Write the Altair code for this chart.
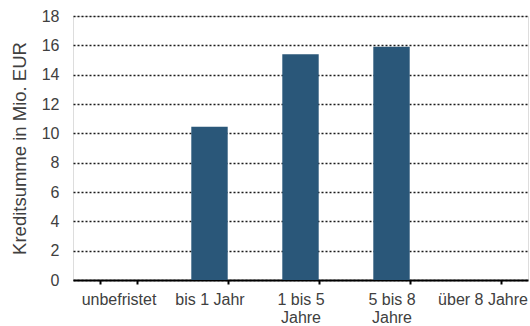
import altair as alt
import pandas as pd

# Kreditsumme nach Laufzeit (Mio. EUR)
laufzeiten = ["unbefristet", "bis 1 Jahr", "1 bis 5 Jahre", "5 bis 8 Jahre", "über 8 Jahre"]
kreditsumme = [0.0, 10.45, 15.4, 15.9, 0.0]
y_ticks = [0, 2, 4, 6, 8, 10, 12, 14, 16, 18]

df = pd.DataFrame({"laufzeit": laufzeiten, "summe": kreditsumme})

# two-line labels for the middle categories
label_expr = (
    "datum.label == '1 bis 5 Jahre' ? ['1 bis 5', 'Jahre'] : "
    "datum.label == '5 bis 8 Jahre' ? ['5 bis 8', 'Jahre'] : datum.label"
)

FONT = "Liberation Sans"
TEXT = "#404040"

chart = (
    alt.Chart(df)
    .mark_bar(color="#2a5779")
    .encode(
        x=alt.X(
            "laufzeit:N",
            sort=laufzeiten,
            scale=alt.Scale(paddingInner=0.6, paddingOuter=0.3),
            axis=alt.Axis(
                title=None,
                labelAngle=0,
                labelExpr=label_expr,
                labelFont=FONT,
                labelFontSize=16,
                labelColor=TEXT,
                labelLineHeight=18,
                labelPadding=7,
                tickBand="extent",
                tickSize=4,
                tickWidth=2,
                tickColor="#000000",
                domainColor="#000000",
                domainWidth=2,
                grid=False,
            ),
        ),
        y=alt.Y(
            "summe:Q",
            scale=alt.Scale(domain=[0, 18], nice=False),
            axis=alt.Axis(
                title="Kreditsumme in Mio. EUR",
                values=y_ticks,
                labelFont=FONT,
                labelFontSize=16,
                labelColor=TEXT,
                labelPadding=14,
                ticks=False,
                domain=False,
                grid=True,
                gridColor="#1a1a1a",
                gridDash=[2, 2],
                gridWidth=1.5,
                titleFont=FONT,
                titleFontSize=18.5,
                titleFontWeight="normal",
                titleColor=TEXT,
                titleAngle=-90,
                titleAlign="center",
                titleBaseline="alphabetic",
                titleX=-48,
                titleY=132,
            ),
        ),
    )
    .properties(
        width=455,
        height=264,
        autosize=alt.AutoSizeParams(type="none"),
        padding={"left": 73, "top": 16, "right": 2, "bottom": 46},
    )
    .configure_view(stroke=None)
    .configure(background="white")
)

chart.save("out.html", embed_options={"renderer": "svg", "actions": False})
